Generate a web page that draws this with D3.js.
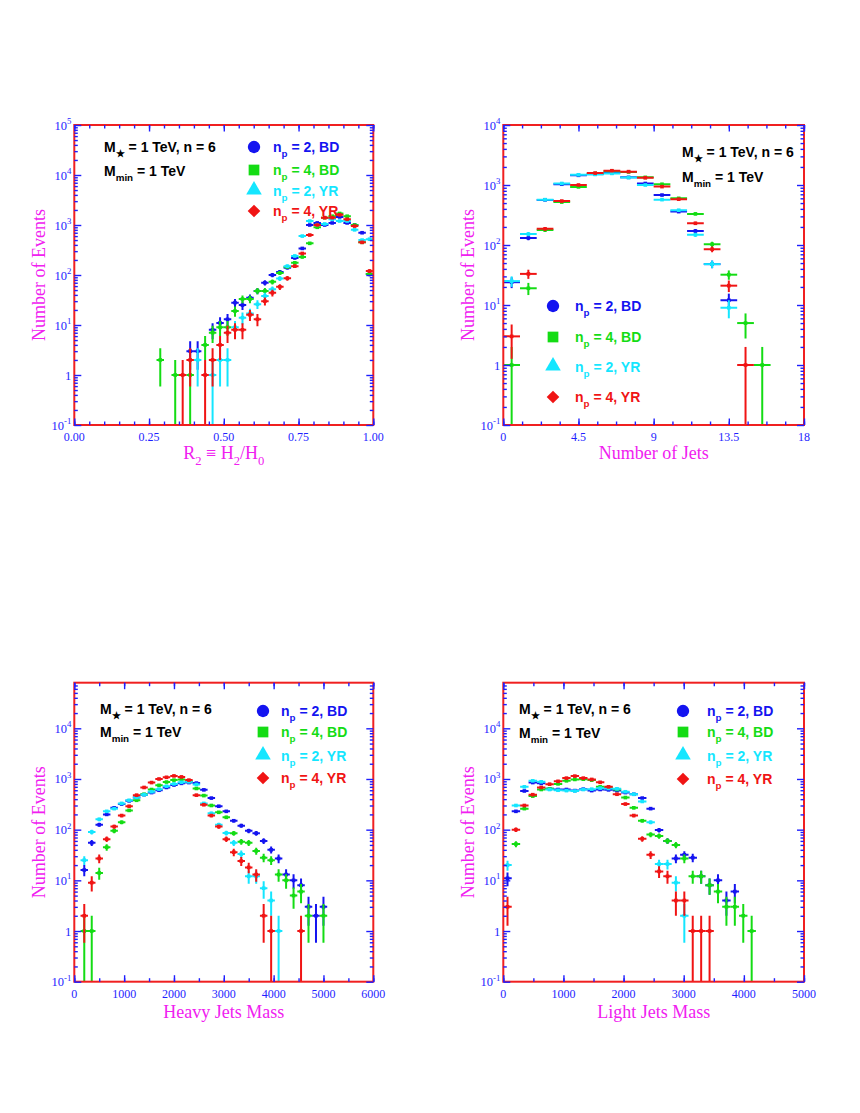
<!DOCTYPE html>
<html>
<head>
<meta charset="utf-8">
<script src="https://cdn.jsdelivr.net/npm/d3@7/dist/d3.min.js"></script>
<style>
body { margin: 0; background: #ffffff; }
</style>
</head>
<body>
<script>
var w = 860,
    h = 1113;

var seriesLabels = ["2, BD", "4, BD", "2, YR", "4, YR"];
var seriesColors = ["#1414f0", "#14dc14", "#14e6ff", "#f01414"];
var seriesSymbols = [d3.symbolCircle, d3.symbolSquare, d3.symbolTriangle, d3.symbolSquare];
var symbolSizes = [120, 115, 105, 80];

// panel 1 : R2 = H2/H0, bin width 0.025
var r2Centers = [0.2875, 0.3125, 0.3375, 0.3625, 0.3875, 0.4125, 0.4375, 0.4625, 0.4875, 0.5125,
                 0.5375, 0.5625, 0.5875, 0.6125, 0.6375, 0.6625, 0.6875, 0.7125, 0.7375, 0.7625,
                 0.7875, 0.8125, 0.8375, 0.8625, 0.8875, 0.9125, 0.9375, 0.9625, 0.9875];
var r2Blue  = [0, 0, 0, 0, 3, 3, 0, 8, 11, 13, 28, 25, 35, 48, 70, 100, 115, 140, 220, 340, 1000, 1100, 1000, 1100, 1450, 1100, 1000, 700, 105];
var r2Green = [2, 0, 1, 0, 1, 0, 4, 7, 9, 9, 19, 33, 33, 48, 48, 73, 110, 145, 175, 230, 430, 900, 1400, 1500, 1700, 1500, 1000, 450, 105];
var r2Cyan  = [0, 0, 0, 0, 0, 2, 0, 1, 2, 2, 9, 14, 17, 26, 38, 52, 85, 150, 240, 600, 1200, 1000, 1050, 1300, 1200, 1200, 800, 500, 520];
var r2Red   = [0, 0, 0, 1, 2, 0, 1, 2, 4, 7, 8, 8, 16, 13, 30, 44, 58, 86, 150, 270, 630, 1000, 1400, 1400, 1600, 1300, 950, 450, 120];
var r2Ticks = [0, 0.25, 0.5, 0.75, 1];

// panel 2 : number of jets
var njCenters = [0.5, 1.5, 2.5, 3.5, 4.5, 5.5, 6.5, 7.5, 8.5, 9.5, 10.5, 11.5, 12.5, 13.5, 14.5, 15.5];
var njBlue  = [24, 131, 565, 1030, 1450, 1520, 1600, 1340, 1060, 680, 360, 171, 48, 12, 0, 0];
var njGreen = [1, 19, 178, 520, 930, 1560, 1700, 1650, 1340, 1030, 600, 330, 103, 32, 5, 1];
var njCyan  = [25, 152, 570, 1060, 1480, 1500, 1560, 1330, 1000, 570, 380, 148, 48, 9, 0, 0];
var njRed   = [3, 33, 186, 540, 1000, 1580, 1730, 1670, 1320, 940, 580, 230, 85, 21, 1, 0];
var njTicks = [0, 4.5, 9, 13.5, 18];

// panel 3 : heavy jets mass, bin width 150
var hmCenters = [200, 350, 500, 650, 800, 950, 1100, 1250, 1400, 1550, 1700, 1850, 2000, 2150, 2300, 2450, 2600,
                 2750, 2900, 3050, 3200, 3350, 3500, 3650, 3800, 3950, 4100, 4250, 4400, 4550, 4700, 4850, 5000];
var hmBlue  = [16, 55, 125, 200, 270, 320, 370, 430, 490, 540, 600, 680, 760, 820, 850, 830, 610, 420, 290, 230, 150, 120, 95, 85, 60, 40, 27, 13, 10, 8, 3, 2, 3];
var hmGreen = [1, 1, 14, 45, 95, 140, 240, 380, 500, 620, 750, 870, 950, 980, 900, 650, 470, 300, 220, 175, 85, 58, 55, 38, 28, 25, 13, 10, 5, 6, 2, 0, 2];
var hmCyan  = [25, 90, 160, 230, 260, 330, 380, 430, 490, 560, 630, 720, 800, 860, 880, 780, 330, 210, 125, 86, 55, 33, 12, 12, 7, 4, 1, 0, 0, 0, 0, 0, 0];
var hmRed   = [2, 9, 27, 65, 115, 190, 290, 480, 680, 850, 1000, 1080, 1150, 1100, 950, 480, 310, 190, 115, 65, 36, 24, 18, 13, 2, 1, 0, 0, 0, 1, 0, 0, 0];
var hmTicks = [0, 1000, 2000, 3000, 4000, 5000, 6000];

// panel 4 : light jets mass, bin width 140
var lmCenters = [70, 210, 350, 490, 630, 770, 910, 1050, 1190, 1330, 1470, 1610, 1750, 1890, 2030,
                 2170, 2310, 2450, 2590, 2730, 2870, 3010, 3150, 3290, 3430, 3570, 3710, 3850, 3990, 4130];
var lmBlue  = [11, 230, 580, 850, 820, 640, 620, 620, 590, 630, 590, 620, 610, 590, 540, 500, 420, 260, 98, 60, 27, 32, 28, 12, 8, 10, 4, 6, 0, 0];
var lmGreen = [0, 52, 260, 460, 620, 640, 800, 920, 980, 990, 950, 700, 680, 620, 430, 270, 150, 80, 75, 60, 50, 27, 12, 12, 8, 6, 3, 3, 2, 1];
var lmCyan  = [20, 300, 700, 920, 880, 620, 600, 590, 580, 620, 630, 660, 650, 640, 560, 500, 360, 140, 21, 21, 9, 2, 0, 0, 0, 0, 0, 0, 0, 0];
var lmRed   = [3, 100, 300, 490, 680, 790, 900, 1040, 1140, 1040, 980, 860, 700, 500, 320, 190, 66, 32, 15, 12, 4, 4, 1, 1, 1, 0, 0, 0, 0, 0];
var lmTicks = [0, 1000, 2000, 3000, 4000, 5000];

var tickColor = "#1e1eff",
    frameColor = "#f02020",
    titleColor = "#f020f0",
    serif = "'Liberation Serif', 'Times New Roman', serif",
    sans = "'Liberation Sans', Arial, Helvetica, sans-serif";

var panels = [
  {id: 1, left: 74.3, top: 125, width: 299, height: 300, xDomain: [0, 1], yDomain: [0.1, 1e5],
   bin: 0.025, centers: r2Centers, series: [r2Blue, r2Green, r2Cyan, r2Red],
   xTicks: r2Ticks, xMinor: 0.05, xFmt: d3.format(".2f"), yExp: [-1, 0, 1, 2, 3, 4, 5],
   xTitle: [["R", ""], ["2", "sub"], [" \u2261 H", ""], ["2", "sub"], ["/H", ""], ["0", "sub"]], xTitleY: 459,
   legend: {mx: 254, tx: 273, ys: [147, 170, 191, 211]}, anno: {x: 104, ys: [147, 171]}},
  {id: 2, left: 503.3, top: 125, width: 300.7, height: 300, xDomain: [0, 18], yDomain: [0.1, 1e4],
   bin: 1, centers: njCenters, series: [njBlue, njGreen, njCyan, njRed],
   xTicks: njTicks, xMinor: 1.125, xFmt: d3.format(""), yExp: [-1, 0, 1, 2, 3, 4],
   xTitle: [["Number of Jets", ""]], xTitleY: 459,
   legend: {mx: 553, tx: 575, ys: [306, 337, 367, 397]}, anno: {x: 682, ys: [152, 177]}},
  {id: 3, left: 74.3, top: 682.7, width: 299, height: 299, xDomain: [0, 6000], yDomain: [0.1, Math.pow(10, 4.9)],
   bin: 150, centers: hmCenters, series: [hmBlue, hmGreen, hmCyan, hmRed],
   xTicks: hmTicks, xMinor: 500, xFmt: d3.format("d"), yExp: [-1, 0, 1, 2, 3, 4],
   xTitle: [["Heavy Jets Mass", ""]], xTitleY: 1018,
   legend: {mx: 263, tx: 281, ys: [711, 732, 756, 778]}, anno: {x: 100, ys: [709, 732]}},
  {id: 4, left: 503.3, top: 682.7, width: 300.7, height: 299, xDomain: [0, 5000], yDomain: [0.1, Math.pow(10, 4.9)],
   bin: 140, centers: lmCenters, series: [lmBlue, lmGreen, lmCyan, lmRed],
   xTicks: lmTicks, xMinor: 500, xFmt: d3.format("d"), yExp: [-1, 0, 1, 2, 3, 4],
   xTitle: [["Light Jets Mass", ""]], xTitleY: 1018,
   legend: {mx: 683, tx: 707, ys: [711, 732, 756, 779]}, anno: {x: 519, ys: [709, 733]}}
];

var svg = d3.select("body").append("svg")
  .attr("width", w)
  .attr("height", h)
  .style("background", "#ffffff");

// text with sub/superscript parts
function richText(sel, parts, size) {
  var shift = 0;
  parts.forEach(function(p) {
    var want = p[1] == "sub" ? size * 0.35 : (p[1] == "sup" ? -size * 0.45 : 0);
    var t = sel.append("tspan").attr("dy", want - shift).text(p[0]);
    if (p[1] != "") t.attr("font-size", size * 0.7);
    shift = want;
  });
}

function drawPanel(p) {
  var x = d3.scaleLinear().domain(p.xDomain).range([p.left, p.left + p.width]);
  var y = d3.scaleLog().domain(p.yDomain).range([p.top + p.height, p.top]);
  var g = svg.append("g");
  var bottom = p.top + p.height, right = p.left + p.width;

  g.append("clipPath").attr("id", "clip" + p.id)
    .append("rect")
    .attr("x", p.left).attr("y", p.top)
    .attr("width", p.width).attr("height", p.height);

  // histogram crosses
  var plot = g.append("g").attr("clip-path", "url(#clip" + p.id + ")");
  p.series.forEach(function(vals, s) {
    var pts = p.centers.map(function(c, i) { return {c: c, v: vals[i]}; })
      .filter(function(d) { return d.v > 0; });
    var sg = plot.append("g")
      .attr("stroke", seriesColors[s])
      .attr("stroke-width", 2);
    sg.selectAll("line.h").data(pts).enter().append("line")
      .attr("class", "h")
      .attr("x1", function(d) { return x(d.c - p.bin / 2); })
      .attr("x2", function(d) { return x(d.c + p.bin / 2); })
      .attr("y1", function(d) { return y(d.v); })
      .attr("y2", function(d) { return y(d.v); });
    sg.selectAll("line.v").data(pts).enter().append("line")
      .attr("class", "v")
      .attr("x1", function(d) { return x(d.c); })
      .attr("x2", function(d) { return x(d.c); })
      .attr("y1", function(d) { return y(d.v + Math.sqrt(d.v)); })
      .attr("y2", function(d) {
        var lo = d.v - Math.sqrt(d.v);
        return lo > p.yDomain[0] ? y(lo) : bottom + 2;
      });
    plot.append("g").attr("fill", seriesColors[s])
      .selectAll("rect").data(pts).enter().append("rect")
      .attr("x", function(d) { return x(d.c) - 1.8; })
      .attr("y", function(d) { return y(d.v) - 1.8; })
      .attr("width", 3.6)
      .attr("height", 3.6);
  });

  // frame
  g.append("rect")
    .attr("x", p.left).attr("y", p.top)
    .attr("width", p.width).attr("height", p.height)
    .attr("fill", "none")
    .attr("stroke", frameColor)
    .attr("stroke-width", 2);

  // inward ticks on all four sides
  var xMinor = d3.range(p.xDomain[0], p.xDomain[1] + 1e-9, p.xMinor);
  var yMajor = p.yExp.map(function(e) { return Math.pow(10, e); });
  var yMinor = [];
  p.yExp.forEach(function(e) {
    for (var m = 2; m <= 9; m++) {
      if (m * Math.pow(10, e) < p.yDomain[1]) yMinor.push(m * Math.pow(10, e));
    }
  });
  function ticks(axis, tr, size) {
    g.append("g").attr("transform", tr)
      .call(axis.tickSize(size).tickFormat(""))
      .call(function(a) {
        a.select(".domain").remove();
        a.selectAll("line").attr("stroke", tickColor).attr("stroke-width", 1.4);
      });
  }
  ticks(d3.axisBottom(x).tickValues(xMinor), "translate(0," + bottom + ")", -3.5);
  ticks(d3.axisBottom(x).tickValues(p.xTicks), "translate(0," + bottom + ")", -6.5);
  ticks(d3.axisTop(x).tickValues(xMinor), "translate(0," + p.top + ")", -3.5);
  ticks(d3.axisTop(x).tickValues(p.xTicks), "translate(0," + p.top + ")", -6.5);
  ticks(d3.axisLeft(y).tickValues(yMinor), "translate(" + p.left + ",0)", -3.5);
  ticks(d3.axisLeft(y).tickValues(yMajor), "translate(" + p.left + ",0)", -7);
  ticks(d3.axisRight(y).tickValues(yMinor), "translate(" + right + ",0)", -3.5);
  ticks(d3.axisRight(y).tickValues(yMajor), "translate(" + right + ",0)", -7);

  // tick labels
  g.selectAll("text.xl").data(p.xTicks).enter().append("text")
    .attr("class", "xl")
    .attr("x", function(d) { return x(d); })
    .attr("y", bottom + 16)
    .attr("text-anchor", "middle")
    .attr("font-family", serif)
    .attr("font-size", 12)
    .attr("fill", tickColor)
    .text(p.xFmt);

  p.yExp.forEach(function(e) {
    var t = g.append("text")
      .attr("x", p.left - 3)
      .attr("y", y(Math.pow(10, e)) + 4.5)
      .attr("text-anchor", "end")
      .attr("font-family", serif)
      .attr("font-size", 12.5)
      .attr("fill", tickColor);
    if (e == 0) { t.text("1"); }
    else { richText(t, [["10", ""], [String(e), "sup"]], 12.5); }
  });

  // axis titles
  var xt = g.append("text")
    .attr("x", p.left + p.width / 2)
    .attr("y", p.xTitleY)
    .attr("text-anchor", "middle")
    .attr("font-family", serif)
    .attr("font-size", 18)
    .attr("fill", titleColor);
  richText(xt, p.xTitle, 18);

  g.append("text")
    .attr("transform", "translate(" + (p.left - 29) + "," + (p.top + p.height / 2) + ") rotate(-90)")
    .attr("text-anchor", "middle")
    .attr("font-family", serif)
    .attr("font-size", 18)
    .attr("fill", titleColor)
    .text("Number of Events");

  // annotation
  var a1 = g.append("text").attr("x", p.anno.x).attr("y", p.anno.ys[0] + 5)
    .attr("font-family", sans).attr("font-weight", "bold").attr("font-size", 14).attr("fill", "#000");
  richText(a1, [["M", ""], ["\u2605", "sub"], [" = 1 TeV, n = 6", ""]], 14);
  var a2 = g.append("text").attr("x", p.anno.x).attr("y", p.anno.ys[1] + 5)
    .attr("font-family", sans).attr("font-weight", "bold").attr("font-size", 14).attr("fill", "#000");
  richText(a2, [["M", ""], ["min", "sub"], [" = 1 TeV", ""]], 14);

  // legend
  seriesLabels.forEach(function(lab, s) {
    var ly = p.legend.ys[s];
    g.append("path")
      .attr("transform", "translate(" + p.legend.mx + "," + (s == 2 ? ly - 1 : ly) + ")" + (s == 3 ? " rotate(45)" : ""))
      .attr("d", d3.symbol().type(seriesSymbols[s]).size(symbolSizes[s])())
      .attr("fill", seriesColors[s]);
    var lt = g.append("text").attr("x", p.legend.tx).attr("y", ly + 5)
      .attr("font-family", sans).attr("font-weight", "bold").attr("font-size", 14)
      .attr("fill", seriesColors[s]);
    richText(lt, [["n", ""], ["p", "sub"], [" = " + lab, ""]], 14);
  });
}

panels.forEach(drawPanel);
</script>
</body>
</html>
